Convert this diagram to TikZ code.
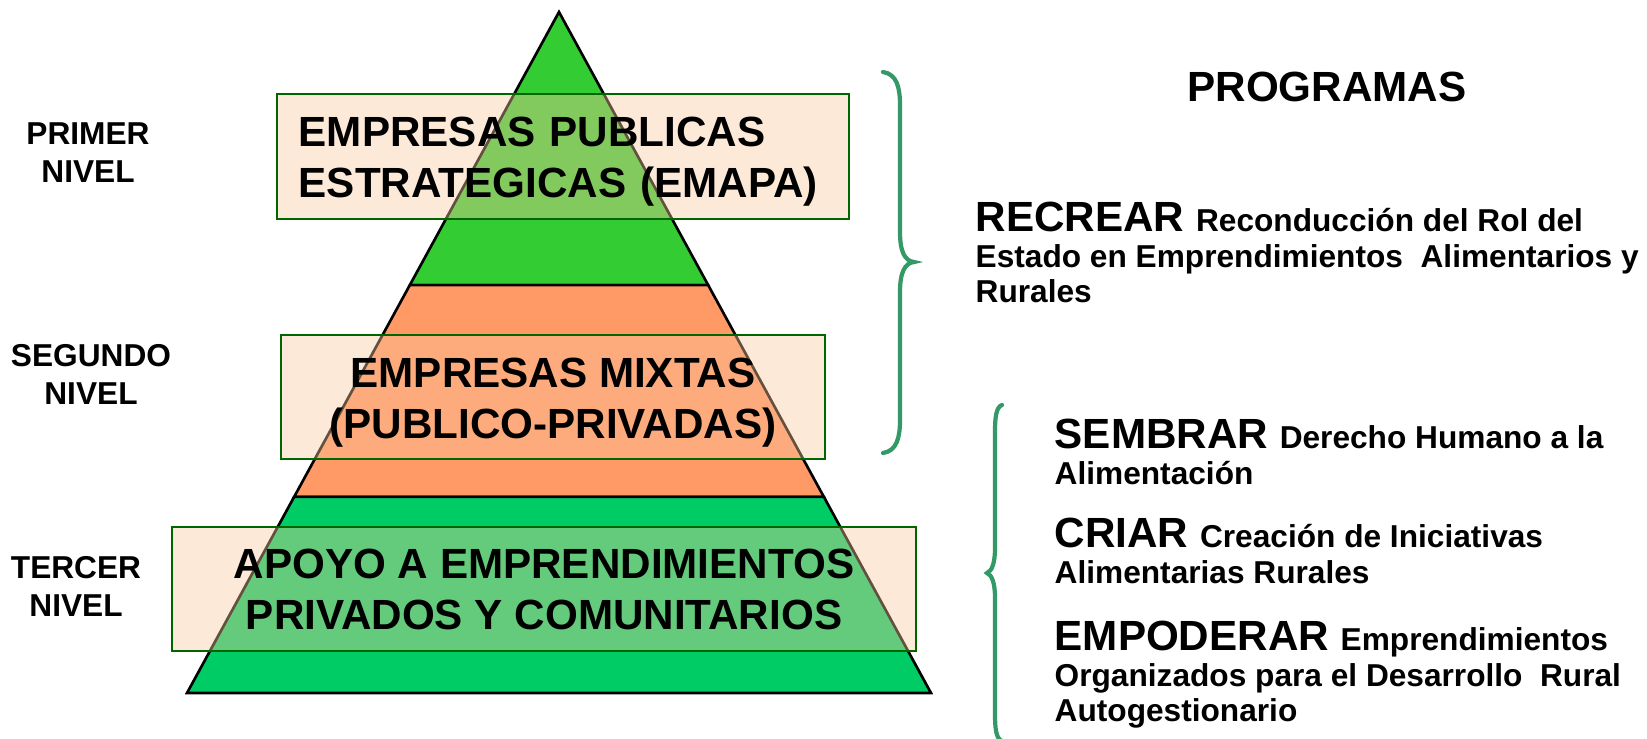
\documentclass[tikz,border=0pt]{standalone}
\usepackage{fontspec}
\setmainfont{Liberation Sans}
\usetikzlibrary{calc}

\definecolor{topgreen}{RGB}{51,204,51}
\definecolor{midorange}{RGB}{255,153,102}
\definecolor{lowgreen}{RGB}{0,204,102}
\definecolor{boxfill}{RGB}{250,200,158}
\definecolor{boxline}{RGB}{0,102,0}
\definecolor{bracegreen}{RGB}{51,153,102}

\newcommand{\progname}[1]{{\fontsize{12}{10}\selectfont #1 }}

\tikzset{
    band/.style = {
        draw       = black,
        line width = 0.75pt,
    },
    levelbox/.style = {
        draw         = boxline,
        fill         = boxfill,
        fill opacity = 0.4,
        text opacity = 1,
        line width   = 0.6pt,
        inner sep    = 0pt,
        align        = center,
        font         = \fontsize{12}{14.5}\selectfont\bfseries,
    },
    levelname/.style = {
        anchor    = north,
        inner sep = 0pt,
        align     = center,
        font      = \fontsize{9}{10.8}\selectfont\bfseries,
    },
    progtext/.style = {
        anchor    = north west,
        inner sep = 0pt,
        align     = left,
        font      = \fontsize{9}{10.2}\selectfont\bfseries,
    },
    curly/.style = {
        draw       = bracegreen,
        line width = 1.2pt,
        line cap   = round,
    },
}

\begin{document}
\begin{tikzpicture}[x=0.01cm, y=-0.01cm]
  % the slide is 1647 x 739, one unit is one pixel
  \useasboundingbox (0,0) rectangle (1647,739);

  \coordinate (apex) at (559,12);
  \coordinate (bl) at (187,693);
  \coordinate (br) at (931,693);
  \coordinate (l1) at ($(apex)!0.401!(bl)$);
  \coordinate (r1) at ($(apex)!0.401!(br)$);
  \coordinate (l2) at ($(apex)!0.712!(bl)$);
  \coordinate (r2) at ($(apex)!0.712!(br)$);

  % pyramid bands
  \filldraw[band, fill=topgreen] (apex) -- (r1) -- (l1) -- cycle;
  \filldraw[band, fill=midorange] (l1) -- (r1) -- (r2) -- (l2) -- cycle;
  \filldraw[band, fill=lowgreen] (l2) -- (r2) -- (br) -- (bl) -- cycle;

  % boxes lie over the bands
  \node[levelbox, minimum width=5.72cm, minimum height=1.25cm,
        text width=5.28cm, align=left] (emapa) at (563,156.5)
    {\rule{0pt}{11.45pt}EMPRESAS PUBLICAS\\ESTRATEGICAS (EMAPA)};
  \node[levelbox, minimum width=5.44cm, minimum height=1.24cm] (mixtas) at (553,397)
    {\rule{0pt}{11.45pt}EMPRESAS MIXTAS\\(PUBLICO-PRIVADAS)};
  \node[levelbox, minimum width=7.44cm, minimum height=1.24cm] (apoyo) at (544,589)
    {APOYO A EMPRENDIMIENTOS\\PRIVADOS Y COMUNITARIOS};

  \node[levelname] (primer) at (88,122) {PRIMER\\NIVEL};
  \node[levelname] (segundo) at (91,344) {SEGUNDO\\NIVEL};
  \node[levelname] (tercer) at (76,556) {TERCER\\NIVEL};

  % braces
  \draw[curly] (883,72) .. controls (897,74) and (900,88) .. (900,105)
    -- (900,232) .. controls (900,252) and (905,261) .. (914,262)
    .. controls (905,263) and (900,272) .. (900,292)
    -- (900,420) .. controls (900,437) and (897,451) .. (883,453);
  \draw[curly] (1002,405) .. controls (996,407) and (995,418) .. (995,432)
    -- (995,548) .. controls (995,563) and (992,571) .. (987,573)
    .. controls (992,575) and (995,583) .. (995,598)
    -- (995,714) .. controls (995,728) and (996,739) .. (1002,741);

  \node[anchor=base, inner sep=0pt, font=\fontsize{12}{14}\selectfont\bfseries]
    (programas) at (1327,101) {PROGRAMAS};
  \node[progtext] (recrear) at (975,201)
    {\progname{RECREAR}Reconducción del Rol del\\
     Estado en Emprendimientos~ Alimentarios y\\Rurales};
  \node[progtext] (sembrar) at (1054,418)
    {\progname{SEMBRAR}Derecho Humano a la\\Alimentación};
  \node[progtext] (criar) at (1054,517)
    {\progname{CRIAR}Creación de Iniciativas\\Alimentarias Rurales};
  \node[progtext] (empoderar) at (1054,620)
    {\progname{EMPODERAR}Emprendimientos\\Organizados para el Desarrollo~ Rural\\Autogestionario};
\end{tikzpicture}
\end{document}
